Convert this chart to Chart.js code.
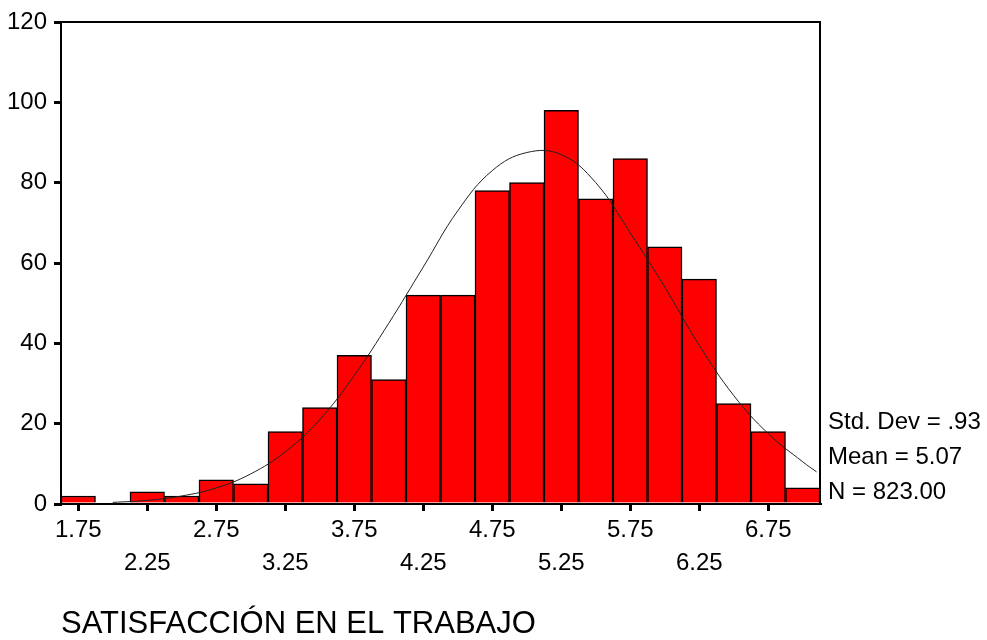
<!DOCTYPE html>
<html>
<head>
<meta charset="utf-8">
<script src="https://cdn.jsdelivr.net/npm/chart.js@4"></script>
<style>
  html, body { margin: 0; padding: 0; background: #fff; }
  #wrap { width: 987px; height: 640px; }
</style>
</head>
<body>
<div id="wrap"><canvas id="histChart" width="987" height="640"></canvas></div>
<script>
// histograma: centros de clase (ancho 0.25) y frecuencias
const binCenters = [1.75, 2.00, 2.25, 2.50, 2.75, 3.00, 3.25, 3.50, 3.75, 4.00, 4.25,
                    4.50, 4.75, 5.00, 5.25, 5.50, 5.75, 6.00, 6.25, 6.50, 6.75, 7.00];
const counts = [2, 0, 3, 2, 6, 5, 18, 24, 37, 31, 52, 52, 78, 80, 98, 76, 86, 64, 56, 25, 18, 4];

// curva normal tal como se ve en la figura
const curveX = [2.00, 2.25, 2.50, 2.75, 3.00, 3.25, 3.50, 3.75, 4.00, 4.25, 4.50,
                4.75, 5.00, 5.25, 5.50, 5.75, 6.00, 6.25, 6.50, 6.75, 7.00, 7.10];
const curveY = [0.4, 0.9, 2, 4, 7.5, 13, 21, 32, 45, 59, 73, 83, 87.5, 87, 80, 67.5, 54, 39.5, 27, 17.5, 10.5, 8];

// etiquetas del eje x
const xTickValues = [1.75, 2.25, 2.75, 3.25, 3.75, 4.25, 4.75, 5.25, 5.75, 6.25, 6.75];
const xTickLabels = ['1.75', '2.25', '2.75', '3.25', '3.75', '4.25', '4.75', '5.25', '5.75', '6.25', '6.75'];

const statsLines = ['Std. Dev = .93', 'Mean = 5.07', 'N = 823.00'];
const axisTitle = 'SATISFACCIÓN EN EL TRABAJO';

const FONT = "'Liberation Sans', Arial, sans-serif";

// marco y estadísticos
const framePlugin = {
    id: 'frame',
    afterDraw(chart) {
        const { ctx, chartArea } = chart;
        ctx.save();
        ctx.strokeStyle = '#000';
        ctx.lineWidth = 2;
        ctx.beginPath();
        ctx.moveTo(chartArea.left, chartArea.top);
        ctx.lineTo(chartArea.right, chartArea.top);
        ctx.lineTo(chartArea.right, chartArea.bottom);
        ctx.stroke();

        ctx.fillStyle = '#000';
        ctx.font = '24px ' + FONT;
        ctx.textAlign = 'left';
        ctx.textBaseline = 'middle';
        const offsets = [82, 47, 12];
        statsLines.forEach((txt, i) => {
            ctx.fillText(txt, chartArea.right + 8, chartArea.bottom - offsets[i]);
        });
        ctx.restore();
    }
};

document.addEventListener('DOMContentLoaded', () => {
    const ctx = document.getElementById('histChart').getContext('2d');

    new Chart(ctx, {
        type: 'bar',
        data: {
            datasets: [
                {
                    type: 'line',
                    data: curveX.map((x, i) => ({ x: x, y: curveY[i] })),
                    borderColor: '#222',
                    borderWidth: 1,
                    pointRadius: 0,
                    tension: 0.4,
                    fill: false,
                    order: 0
                },
                {
                    data: binCenters.map((x, i) => ({ x: x, y: counts[i] })),
                    backgroundColor: '#ff0000',
                    borderColor: '#000',
                    borderWidth: 1.5,
                    barPercentage: 1,
                    categoryPercentage: 1,
                    order: 1
                }
            ]
        },
        options: {
            responsive: false,
            animation: false,
            layout: { padding: { top: 22, right: 167, left: 0, bottom: 0 } },
            plugins: {
                legend: { display: false },
                tooltip: { enabled: false }
            },
            scales: {
                x: {
                    type: 'linear',
                    min: 1.625,
                    max: 7.125,
                    offset: false,
                    afterBuildTicks: (scale) => {
                        scale.ticks = xTickValues.map(v => ({ value: v }));
                    },
                    afterFit: (scale) => { scale.height = 136; },
                    grid: {
                        offset: false,
                        drawOnChartArea: false,
                        drawTicks: true,
                        tickLength: 7,
                        lineWidth: 3,
                        tickWidth: 3,
                        color: '#000',
                        tickColor: '#000'
                    },
                    border: { display: true, color: '#000', width: 2 },
                    ticks: {
                        color: '#000',
                        padding: 3,
                        maxRotation: 0,
                        autoSkip: false,
                        font: { family: FONT, size: 24, lineHeight: 1.36 },
                        callback: (value, index) => {
                            const lbl = xTickLabels[index];
                            return index % 2 === 0 ? [lbl, ''] : ['', lbl];
                        }
                    },
                    title: {
                        display: true,
                        text: axisTitle,
                        align: 'start',
                        color: '#000',
                        padding: { top: 0, bottom: 0 },
                        font: { family: FONT, size: 31, lineHeight: 1 }
                    }
                },
                y: {
                    min: 0,
                    max: 120,
                    afterFit: (scale) => { scale.width = 61; },
                    grid: {
                        drawOnChartArea: false,
                        drawTicks: true,
                        tickLength: 7,
                        lineWidth: 3,
                        tickWidth: 3,
                        color: '#000',
                        tickColor: '#000'
                    },
                    border: { display: true, color: '#000', width: 2 },
                    ticks: {
                        stepSize: 20,
                        color: '#000',
                        padding: 7,
                        font: { family: FONT, size: 24 }
                    }
                }
            }
        },
        plugins: [framePlugin]
    });
});
</script>
</body>
</html>
